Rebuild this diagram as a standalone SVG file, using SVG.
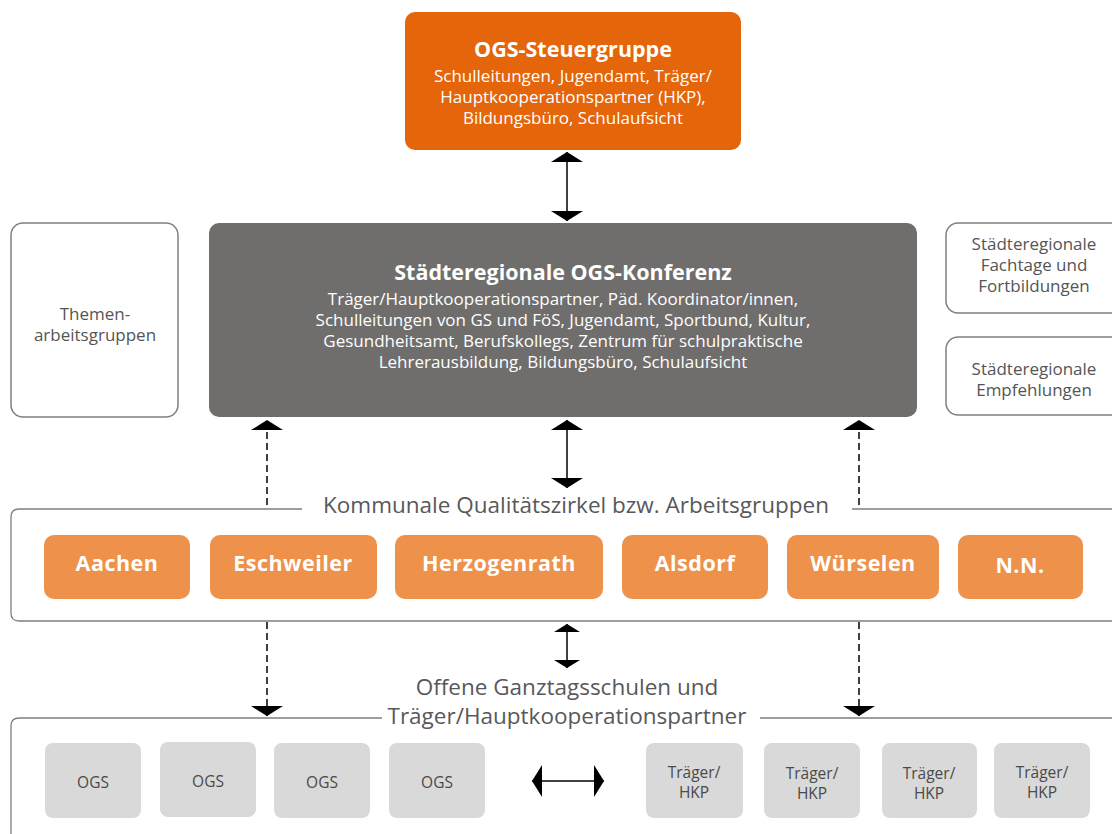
<svg xmlns="http://www.w3.org/2000/svg" width="1112" height="834" viewBox="0 0 1112 834">
<defs>
<style>
text{font-family:"Open Sans","Noto Sans","Liberation Sans",sans-serif;text-anchor:middle}
.w{fill:#fff}
.ttl{font-weight:bold;font-size:21.5px}
.sub{font-size:17px}
.city{font-weight:bold;font-size:21.5px;fill:#fff;letter-spacing:0.5px}
.frame{fill:none;stroke:#7f7f7f;stroke-width:1.3}
.side{fill:#fff;stroke:#7f7f7f;stroke-width:1.5}
.sideT{font-size:17px;fill:#555}
.orange{fill:#ee914b}
.lg{fill:#d9d9d9}
.lgT{font-size:15.5px;fill:#4a4a4a}
.big{font-size:22.5px;fill:#58585a}
.ln{stroke:#000;stroke-width:1.5;fill:none}
.dash{stroke-dasharray:7 4}
</style>
<marker id="ah" markerUnits="userSpaceOnUse" viewBox="0 0 10 32" refX="10" refY="16" markerWidth="10" markerHeight="32" orient="auto-start-reverse">
<path d="M0,0 L10,16 L0,32 Z" fill="#000"/>
</marker>
<marker id="ahs" markerUnits="userSpaceOnUse" viewBox="0 0 8 26" refX="8" refY="13" markerWidth="8" markerHeight="26" orient="auto-start-reverse">
<path d="M0,0 L8,13 L0,26 Z" fill="#000"/>
</marker>
</defs>
<rect width="1112" height="834" fill="#fff"/>

<g id="steuergruppe">
<rect x="405" y="12" width="336" height="138" rx="10" fill="#e4650a"/>
<text x="573" y="57" class="w ttl">OGS-Steuergruppe</text>
<text x="573" y="82" class="w sub">Schulleitungen, Jugendamt, Träger/</text>
<text x="573" y="103" class="w sub">Hauptkooperationspartner (HKP),</text>
<text x="573" y="124" class="w sub">Bildungsbüro, Schulaufsicht</text>
</g>

<g id="konferenz">
<rect x="209" y="223" width="708" height="194" rx="10" fill="#6f6e6c"/>
<text x="563" y="280" class="w ttl">Städteregionale OGS-Konferenz</text>
<text x="563" y="305" class="w sub">Träger/Hauptkooperationspartner, Päd. Koordinator/innen,</text>
<text x="563" y="326" class="w sub">Schulleitungen von GS und FöS, Jugendamt, Sportbund, Kultur,</text>
<text x="563" y="347" class="w sub">Gesundheitsamt, Berufskollegs, Zentrum für schulpraktische</text>
<text x="563" y="368" class="w sub">Lehrerausbildung, Bildungsbüro, Schulaufsicht</text>
</g>

<g id="themen">
<rect x="11" y="223" width="167" height="194" rx="12" class="side"/>
<text x="95" y="320" class="sideT">Themen-</text>
<text x="95" y="341" class="sideT">arbeitsgruppen</text>
</g>

<g id="fachtage">
<rect x="946" y="223" width="180" height="90" rx="12" class="side"/>
<text x="1034" y="250" class="sideT">Städteregionale</text>
<text x="1034" y="271" class="sideT">Fachtage und</text>
<text x="1034" y="292" class="sideT">Fortbildungen</text>
</g>

<g id="empfehlungen">
<rect x="946" y="337" width="180" height="78" rx="12" class="side"/>
<text x="1034" y="375" class="sideT">Städteregionale</text>
<text x="1034" y="396" class="sideT">Empfehlungen</text>
</g>

<g id="qualitaetszirkel">
<path d="M302,509 H19 Q11,509 11,517 V613 Q11,621 19,621 H1120 M852,509 H1120" class="frame"/>
<text x="576" y="513" class="big">Kommunale Qualitätszirkel bzw. Arbeitsgruppen</text>
</g>

<g id="aachen"><rect x="44" y="535" width="146" height="64" rx="10" class="orange"/><text x="117" y="571" class="city">Aachen</text></g>
<g id="eschweiler"><rect x="210" y="535" width="167" height="64" rx="10" class="orange"/><text x="293" y="571" class="city">Eschweiler</text></g>
<g id="herzogenrath"><rect x="395" y="535" width="208" height="64" rx="10" class="orange"/><text x="499" y="571" class="city">Herzogenrath</text></g>
<g id="alsdorf"><rect x="622" y="535" width="146" height="64" rx="10" class="orange"/><text x="695" y="571" class="city">Alsdorf</text></g>
<g id="wuerselen"><rect x="787" y="535" width="152" height="64" rx="10" class="orange"/><text x="863" y="571" class="city">Würselen</text></g>
<g id="nn"><rect x="958" y="535" width="125" height="64" rx="10" class="orange"/><text x="1020" y="573" class="city">N.N.</text></g>

<g id="ganztagsschulen">
<path d="M382,718 H19 Q11,718 11,726 V840 M760,718 H1120" class="frame"/>
<text x="567" y="695" class="big">Offene Ganztagsschulen und</text>
<text x="567" y="724" class="big">Träger/Hauptkooperationspartner</text>
</g>

<g id="ogs1"><rect x="45" y="743" width="96" height="75" rx="8" class="lg"/><text x="93" y="788" class="lgT">OGS</text></g>
<g id="ogs2"><rect x="160" y="742" width="96" height="75" rx="8" class="lg"/><text x="208" y="787" class="lgT">OGS</text></g>
<g id="ogs3"><rect x="274" y="743" width="96" height="75" rx="8" class="lg"/><text x="322" y="788" class="lgT">OGS</text></g>
<g id="ogs4"><rect x="389" y="743" width="96" height="75" rx="8" class="lg"/><text x="437" y="788" class="lgT">OGS</text></g>

<g id="traeger1"><rect x="646" y="743" width="97" height="75" rx="8" class="lg"/><text x="694" y="778" class="lgT">Träger/</text><text x="694" y="798" class="lgT">HKP</text></g>
<g id="traeger2"><rect x="764" y="743" width="96" height="75" rx="8" class="lg"/><text x="812" y="779" class="lgT">Träger/</text><text x="812" y="799" class="lgT">HKP</text></g>
<g id="traeger3"><rect x="882" y="743" width="95" height="75" rx="8" class="lg"/><text x="929" y="779" class="lgT">Träger/</text><text x="929" y="799" class="lgT">HKP</text></g>
<g id="traeger4"><rect x="994" y="743" width="96" height="75" rx="8" class="lg"/><text x="1042" y="778" class="lgT">Träger/</text><text x="1042" y="798" class="lgT">HKP</text></g>

<g id="connectors">
<path d="M567,152 V221" class="ln" marker-start="url(#ah)" marker-end="url(#ah)"/>
<path d="M267,505 V420" class="ln dash" marker-end="url(#ah)"/>
<path d="M567,420 V488" class="ln" marker-start="url(#ah)" marker-end="url(#ah)"/>
<path d="M859,505 V420" class="ln dash" marker-end="url(#ah)"/>
<path d="M267,622 V716" class="ln dash" marker-end="url(#ah)"/>
<path d="M567,624 V668" class="ln" marker-start="url(#ahs)" marker-end="url(#ahs)"/>
<path d="M859,622 V716" class="ln dash" marker-end="url(#ah)"/>
<path d="M532,781 H604" class="ln" marker-start="url(#ah)" marker-end="url(#ah)"/>
</g>
</svg>
